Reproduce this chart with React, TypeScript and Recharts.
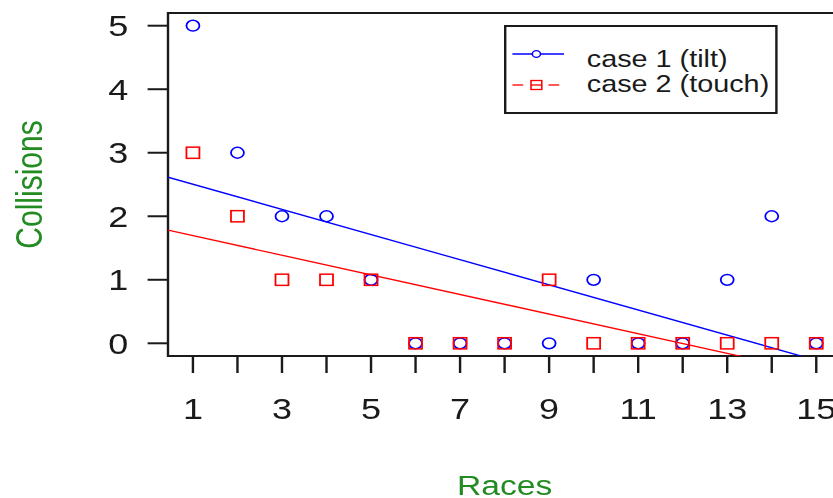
import React from 'react';
import { ComposedChart, XAxis, YAxis, Scatter, ReferenceLine, ReferenceArea, Legend } from 'recharts';

// ---- data ----
const races = [1, 2, 3, 4, 5, 6, 7, 8, 9, 10, 11, 12, 13, 14, 15];
const tiltCollisions = [5, 3, 2, 2, 1, 0, 0, 0, 0, 1, 0, 0, 1, 2, 0];
const touchCollisions = [3, 2, 1, 1, 1, 0, 0, 0, 1, 0, 0, 0, 0, 0, 0];
const xTicks = [1, 2, 3, 4, 5, 6, 7, 8, 9, 10, 11, 12, 13, 14, 15];
const yTicks = [0, 1, 2, 3, 4, 5];
const seriesNames = ['case 1 (tilt)', 'case 2 (touch)'];
const trendIntercepts = [2.702, 1.85];
const trendSlopes = [-0.198, -0.1545];

const X_DOMAIN: [number, number] = [0.44, 15.56];
const Y_DOMAIN: [number, number] = [-0.2, 5.2];
const BLUE = '#0000ff';
const RED = '#ff0000';
const GREEN = '#228B22';
const INK = '#1a1a1a';
const FONT = '"Liberation Sans", Arial, sans-serif';

const tiltData = races.map((x, i) => ({ x, y: tiltCollisions[i] }));
const touchData = races.map((x, i) => ({ x, y: touchCollisions[i] }));

const trendSegment = (k: number) => [
  { x: X_DOMAIN[0], y: trendIntercepts[k] + trendSlopes[k] * X_DOMAIN[0] },
  { x: X_DOMAIN[1], y: trendIntercepts[k] + trendSlopes[k] * X_DOMAIN[1] },
];

const CircleShape = (p: any) => (
  <circle cx={p.cx} cy={p.cy} r={5.4} fill="none" stroke={BLUE} strokeWidth={1.5} />
);
const SquareShape = (p: any) => (
  <rect x={p.cx - 5.4} y={p.cy - 5.6} width={10.8} height={11.2} fill="none" stroke={RED} strokeWidth={1.5} />
);

const XLabel = (props: any) => {
  const vb = props.viewBox;
  return (
    <text x={vb.x + vb.width / 2} y={vb.y + vb.height - 3} textAnchor="middle" fill={GREEN} fontSize={28} fontFamily={FONT}>
      Races
    </text>
  );
};

const YLabel = (props: any) => {
  const vb = props.viewBox;
  const cx = 35;
  const cy = vb.y + vb.height / 2;
  return (
    <text x={cx} y={cy} transform={`rotate(-90, ${cx}, ${cy})`} textAnchor="middle" fill={GREEN} fontSize={30} fontFamily={FONT}>
      Collisions
    </text>
  );
};

const LegendBox = () => (
  <svg width={228} height={89} style={{ display: 'block' }}>
    <rect x={1} y={1} width={226} height={87} fill="#fff" stroke={INK} strokeWidth={2} />
    <line x1={7} y1={29} x2={50} y2={29} stroke={BLUE} strokeWidth={1.3} />
    <circle cx={27} cy={29} r={3.4} fill="#fff" stroke={BLUE} strokeWidth={1.3} />
    <line x1={7} y1={60} x2={16} y2={60} stroke={RED} strokeWidth={1.3} />
    <line x1={37} y1={60} x2={46} y2={60} stroke={RED} strokeWidth={1.3} />
    <rect x={22.5} y={55.5} width={9} height={9} fill="#fff" stroke={RED} strokeWidth={1.3} />
    <line x1={22.5} y1={60} x2={31.5} y2={60} stroke={RED} strokeWidth={1.3} />
    <text x={69} y={42} fontSize={24} fontFamily={FONT} fill={INK}>{seriesNames[0]}</text>
    <text x={69} y={67} fontSize={24} fontFamily={FONT} fill={INK}>{seriesNames[1]}</text>
  </svg>
);

export default function App() {
  return (
    <div style={{ position: 'absolute', left: 0, top: 0, width: 833, height: 498, overflow: 'hidden', background: '#fff' }}>
      <div style={{ width: 705, height: 498, transform: 'scaleX(1.2)', transformOrigin: '0 0' }}>
        <ComposedChart
          width={705}
          height={498}
          margin={{ top: 13, right: 4, bottom: 0, left: 0 }}
          style={{ fontFamily: FONT }}
        >
          <XAxis
            type="number"
            dataKey="x"
            domain={X_DOMAIN}
            allowDataOverflow
            ticks={xTicks}
            interval={0}
            tickFormatter={(v: number) => (v % 2 === 1 ? String(v) : '')}
            height={142}
            axisLine={false}
            tickSize={17}
            tickMargin={25}
            tickLine={{ stroke: INK, strokeWidth: 2 }}
            tick={{ fill: INK, fontSize: 30, fontFamily: FONT }}
            label={XLabel}
          />
          <YAxis
            type="number"
            dataKey="y"
            domain={Y_DOMAIN}
            allowDataOverflow
            ticks={yTicks}
            interval={0}
            width={140}
            axisLine={false}
            tickSize={17}
            tickMargin={16}
            tickLine={{ stroke: INK, strokeWidth: 2 }}
            tick={{ fill: INK, fontSize: 30, fontFamily: FONT }}
            label={YLabel}
          />
          <Legend
            layout="horizontal"
            verticalAlign="middle"
            align="center"
            wrapperStyle={{ left: 420, top: 25, width: 228, height: 89 }}
            content={LegendBox}
          />
          <ReferenceArea
            x1={X_DOMAIN[0]}
            x2={X_DOMAIN[1]}
            y1={Y_DOMAIN[0]}
            y2={Y_DOMAIN[1]}
            fill="none"
            stroke={INK}
            strokeWidth={2}
            ifOverflow="visible"
          />
          <Scatter name={seriesNames[0]} data={tiltData} dataKey="y" shape={CircleShape} isAnimationActive={false} />
          <Scatter name={seriesNames[1]} data={touchData} dataKey="y" shape={SquareShape} isAnimationActive={false} />
          <ReferenceLine segment={trendSegment(0)} stroke={BLUE} strokeWidth={1.3} ifOverflow="hidden" />
          <ReferenceLine segment={trendSegment(1)} stroke={RED} strokeWidth={1.3} ifOverflow="hidden" />
        </ComposedChart>
      </div>
    </div>
  );
}
